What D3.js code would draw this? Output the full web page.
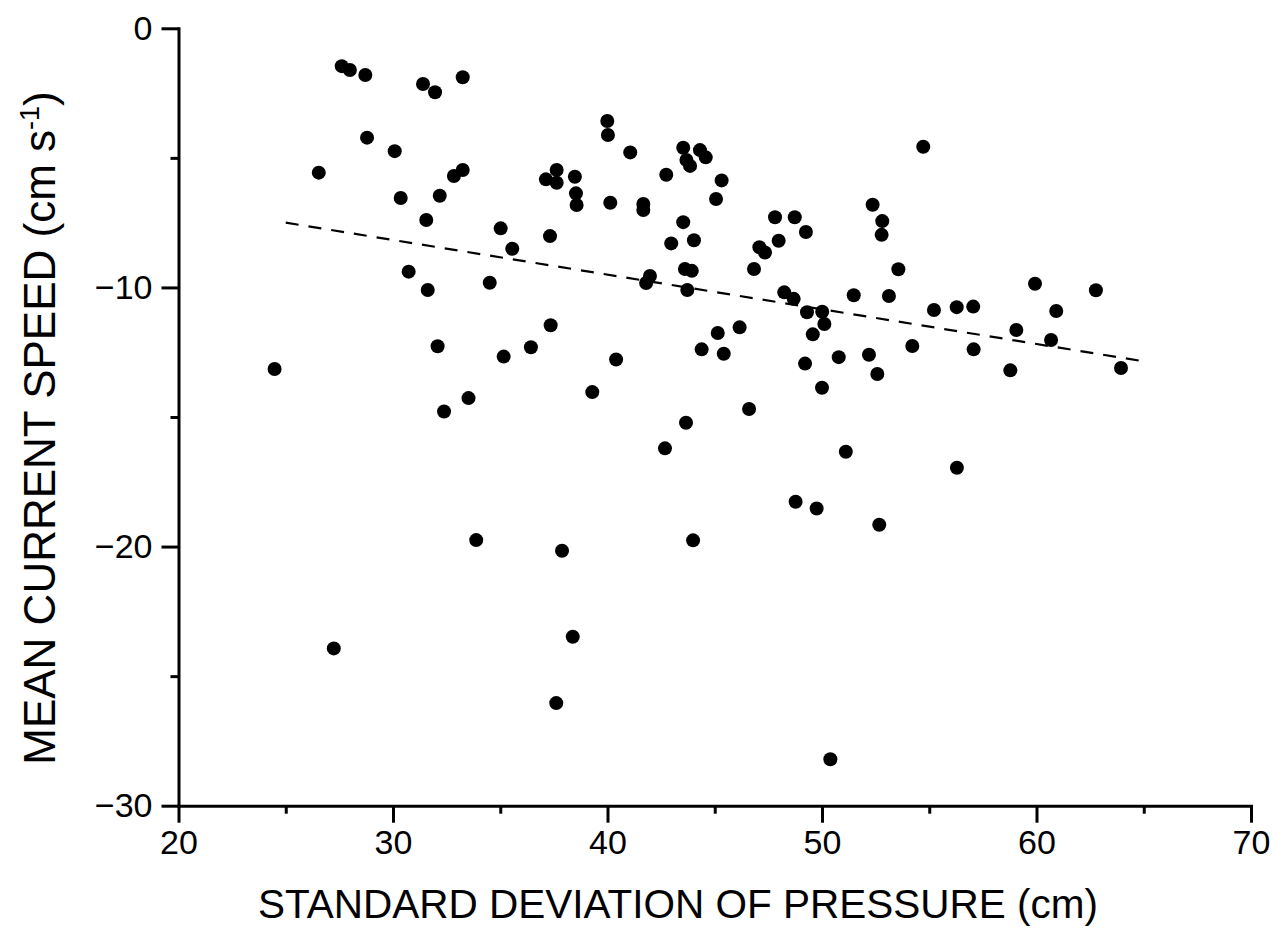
<!DOCTYPE html>
<html>
<head>
<meta charset="utf-8">
<script src="https://cdn.jsdelivr.net/npm/d3@7"></script>
<style>
  html, body { margin: 0; padding: 0; background: #fff; }
  svg { display: block; }
  text { font-family: "Liberation Sans", Arial, Helvetica, sans-serif; fill: #000; }
</style>
</head>
<body>
<svg id="chart" width="1272" height="933"></svg>
<script>
// Standard deviation of pressure (cm)
const sdPressure = [
  27.61, 27.99, 28.71, 31.40, 31.96, 33.25, 28.79, 30.08, 26.54, 32.84,
  33.25, 30.36, 32.18, 31.55, 30.73, 31.62, 32.08, 32.38, 33.52, 24.48,
  27.24, 33.88, 34.51, 35.02, 35.56, 35.16, 36.43, 37.13, 37.63, 37.63,
  38.48, 38.53, 38.56, 37.32, 37.35, 37.88, 38.38, 37.61, 39.29, 39.99,
  40.02, 40.13, 40.40, 41.06, 41.67, 41.67, 41.80, 41.98, 42.74, 42.68,
  42.97, 43.53, 43.53, 43.68, 43.85, 43.61, 43.93, 43.72, 43.66, 43.99,
  44.03, 44.31, 44.58, 44.39, 45.06, 45.32, 45.14, 45.42, 46.16, 46.60,
  46.83, 47.08, 47.34, 47.81, 47.98, 48.24, 48.68, 48.73, 48.77, 49.25,
  49.21, 49.30, 49.57, 49.75, 50.01, 50.11, 50.00, 50.39, 50.78, 51.11,
  51.48, 52.19, 52.36, 52.58, 52.67, 52.81, 52.78, 53.12, 53.56, 54.21,
  54.72, 55.22, 56.28, 56.29, 57.05, 57.07, 58.78, 59.06, 59.93, 60.68,
  60.92, 62.77, 63.94
];
// Mean current speed (cm s-1)
const meanSpeed = [
  -1.46, -1.61, -1.80, -2.15, -2.47, -1.89, -4.22, -4.74, -5.57, -5.70,
  -5.47, -6.55, -6.46, -7.40, -9.39, -10.10, -12.27, -14.79, -14.27, -13.15,
  -23.93, -19.75, -9.82, -7.72, -8.51, -12.67, -12.31, -5.83, -5.47, -5.96,
  -5.73, -6.37, -6.82, -8.02, -11.46, -20.16, -23.48, -26.04, -14.04, -3.58,
  -4.12, -6.73, -12.78, -4.79, -6.78, -7.01, -9.83, -9.56, -5.65, -16.21,
  -8.30, -7.48, -4.61, -5.08, -5.31, -9.29, -9.36, -10.10, -15.22, -19.76,
  -8.18, -4.70, -4.98, -12.39, -6.59, -5.87, -11.76, -12.56, -11.54, -14.69,
  -9.29, -8.45, -8.65, -7.29, -8.20, -10.19, -10.44, -7.29, -18.27, -7.86,
  -12.94, -10.96, -11.81, -18.53, -10.94, -11.41, -13.87, -28.21, -12.69, -16.34,
  -10.30, -12.60, -6.81, -13.34, -19.16, -7.44, -7.97, -10.33, -9.30, -12.26,
  -4.57, -10.87, -10.76, -16.96, -10.74, -12.39, -13.20, -11.64, -9.86, -12.03,
  -10.91, -10.11, -13.11
];
// Fitted trend line end points
const fitX = [25, 65];
const fitY = [-7.5, -12.85];

const xMajorTicks = [20, 30, 40, 50, 60, 70];
const xMinorTicks = [25, 35, 45, 55, 65];
const yMajorTicks = [0, -10, -20, -30];
const yMinorTicks = [-5, -15, -25];

const xTitle = "STANDARD DEVIATION OF PRESSURE (cm)";
const yTitleMain = "MEAN CURRENT SPEED (cm s";
const yTitleSup = "-1";
const yTitleEnd = ")";

const svg = d3.select("#chart");
const x = d3.scaleLinear().domain([20, 70]).range([178.5, 1251]);
const y = d3.scaleLinear().domain([-30, 0]).range([805.7, 28.3]);

const fmt = d => d3.format("")(d);

// X axis
svg.append("g").attr("transform", `translate(0,${y(-30)})`)
  .call(d3.axisBottom(x).tickValues(xMajorTicks).tickSize(17).tickSizeOuter(0).tickPadding(7).tickFormat(fmt));
svg.append("g").attr("transform", `translate(0,${y(-30)})`)
  .call(d3.axisBottom(x).tickValues(xMinorTicks).tickSize(8).tickSizeOuter(0).tickFormat(""))
  .select(".domain").remove();

// Y axis
svg.append("g").attr("transform", `translate(${x(20)},0)`)
  .call(d3.axisLeft(y).tickValues(yMajorTicks).tickSize(17).tickSizeOuter(0).tickPadding(9).tickFormat(fmt));
svg.append("g").attr("transform", `translate(${x(20)},0)`)
  .call(d3.axisLeft(y).tickValues(yMinorTicks).tickSize(8).tickSizeOuter(0).tickFormat(""))
  .select(".domain").remove();

svg.selectAll(".domain, .tick line").attr("stroke", "#000").attr("stroke-width", 3);
svg.selectAll(".domain").attr("stroke-linecap", "square");
svg.selectAll(".tick text").attr("font-size", 34).attr("font-family", "\"Liberation Sans\", Arial, sans-serif").attr("fill", "#000");

// Trend line
svg.append("line")
  .attr("x1", x(fitX[0])).attr("y1", y(fitY[0]))
  .attr("x2", x(fitX[1])).attr("y2", y(fitY[1]))
  .attr("stroke", "#000").attr("stroke-width", 2.2)
  .attr("stroke-dasharray", "13,10");

// Points
const pts = sdPressure.map((v, i) => ({ x: v, y: meanSpeed[i] }));
svg.append("g").selectAll("circle").data(pts).join("circle")
  .attr("cx", d => x(d.x)).attr("cy", d => y(d.y)).attr("r", 7)
  .attr("fill", "#000");

// Titles
svg.append("text")
  .attr("x", 678).attr("y", 918)
  .attr("text-anchor", "middle").attr("font-size", 40.5)
  .text(xTitle);

const yt = svg.append("text")
  .attr("transform", "translate(55,428) rotate(-90)")
  .attr("text-anchor", "middle").attr("font-size", 44);
yt.append("tspan").text(yTitleMain);
yt.append("tspan").attr("font-size", 27).attr("dy", -16).text(yTitleSup);
yt.append("tspan").attr("dy", 16).text(yTitleEnd);
</script>
</body>
</html>
